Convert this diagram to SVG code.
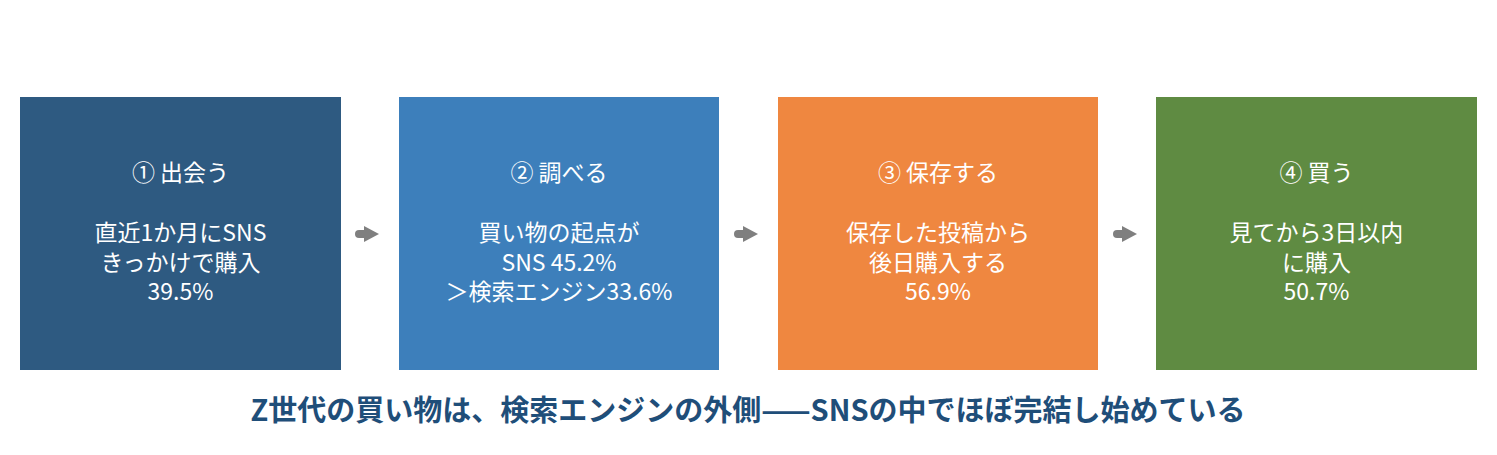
<svg xmlns="http://www.w3.org/2000/svg" width="1497" height="455" viewBox="0 0 1497 455">
<defs>
<style>
.box{stroke:none}
.t{font-family:"Noto Sans CJK JP","Noto Sans",sans-serif;font-size:23px;fill:#ffffff;text-anchor:middle}
.title{font-family:"Noto Sans CJK JP","Noto Sans",sans-serif;font-size:29px;font-weight:bold;fill:#1f4e79;text-anchor:middle}
.conn{stroke:#7f7f7f;stroke-width:8;stroke-linecap:round;fill:none}
.head{fill:#7f7f7f}
</style>
</defs>
<rect width="1497" height="455" fill="#ffffff"/>
<g id="node1">
<rect class="box" x="20" y="97" width="321" height="273" fill="#2e5a81"/>
<text class="t" x="180.5" y="181">① 出会う</text>
<text class="t" x="180.5" y="241">直近1か月にSNS</text>
<text class="t" x="180.5" y="271">きっかけで購入</text>
<text class="t" x="180.5" y="300">39.5%</text>
</g>
<g id="node2">
<rect class="box" x="399" y="97" width="320" height="273" fill="#3d7fbb"/>
<text class="t" x="559" y="181">② 調べる</text>
<text class="t" x="559" y="241">買い物の起点が</text>
<text class="t" x="559" y="271">SNS 45.2%</text>
<text class="t" x="559" y="300">＞検索エンジン33.6%</text>
</g>
<g id="node3">
<rect class="box" x="778" y="97" width="320" height="273" fill="#ef8740"/>
<text class="t" x="938" y="181">③ 保存する</text>
<text class="t" x="938" y="241">保存した投稿から</text>
<text class="t" x="938" y="271">後日購入する</text>
<text class="t" x="938" y="300">56.9%</text>
</g>
<g id="node4">
<rect class="box" x="1156" y="97" width="321" height="273" fill="#5f8b42"/>
<text class="t" x="1316.5" y="181">④ 買う</text>
<text class="t" x="1316.5" y="241">見てから3日以内</text>
<text class="t" x="1316.5" y="271">に購入</text>
<text class="t" x="1316.5" y="300">50.7%</text>
</g>
<g id="connectors">
<line class="conn" x1="359" y1="234" x2="367" y2="234"/>
<polygon class="head" points="364,226 379,234 364,242"/>
<line class="conn" x1="738" y1="234" x2="746" y2="234"/>
<polygon class="head" points="743,226 758,234 743,242"/>
<line class="conn" x1="1117" y1="234" x2="1125" y2="234"/>
<polygon class="head" points="1122,226 1137,234 1122,242"/>
</g>
<g id="caption">
<text class="title" x="748" y="421">Z世代の買い物は、検索エンジンの外側——SNSの中でほぼ完結し始めている</text>
</g>
</svg>
